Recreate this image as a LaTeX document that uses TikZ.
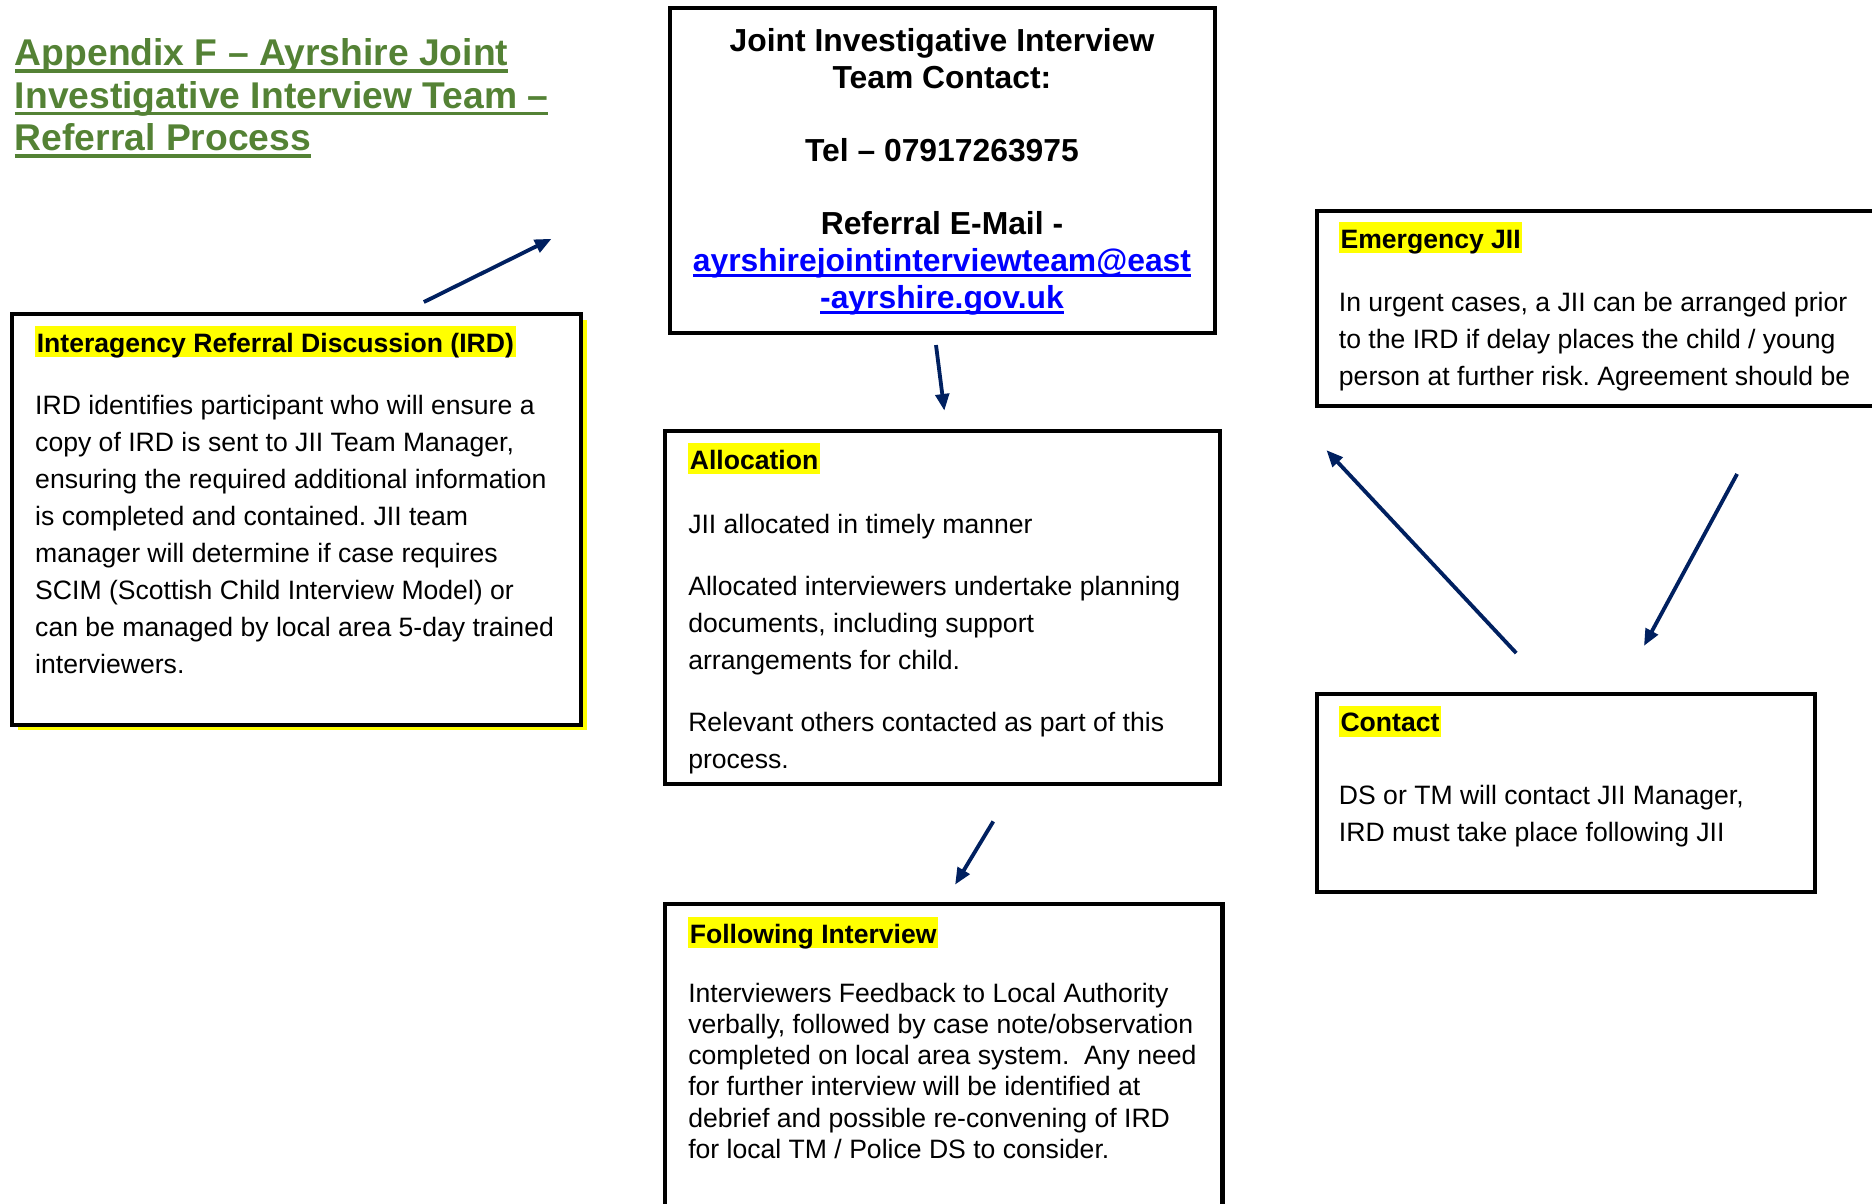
\documentclass[tikz,border=0pt]{standalone}
\usepackage{fontspec}
\setmainfont{Liberation Sans}
\usetikzlibrary{arrows.meta,fit,shadows}
\frenchspacing

\definecolor{titlegreen}{RGB}{84,130,53}
\definecolor{arrownavy}{RGB}{0,32,96}
\definecolor{linkblue}{RGB}{0,0,255}
\definecolor{hlyellow}{RGB}{255,255,0}

\newcommand{\bodyfnt}{\fontsize{16.7}{23.25}\selectfont}
\newcommand{\tightfnt}{\fontsize{16.7}{19.5}\selectfont}
\newcommand{\teamfnt}{\bfseries\fontsize{20}{23.25}\selectfont}
\newcommand{\titlefnt}{\bfseries\fontsize{23.4}{26.6}\selectfont}
\newsavebox{\ulsave}
\newcommand{\titleul}[1]{\sbox{\ulsave}{#1}\rlap{\rule[-4.5pt]{\wd\ulsave}{2.2pt}}\usebox{\ulsave}}
\newcommand{\linkul}[1]{{\color{linkblue}\sbox{\ulsave}{#1}\rlap{\rule[-3.5pt]{\wd\ulsave}{1.5pt}}\usebox{\ulsave}}}

\tikzset{every picture/.style={line width=0.75pt}}
\tikzset{
  boxframe/.style={draw, line width=2.6pt, fill=white, inner sep=0pt},
  headtext/.style={anchor=base west, fill=hlyellow, inner xsep=1pt, inner ysep=0pt,
    text height=16.5pt, text depth=3pt, font=\bodyfnt\bfseries},
  % multi-line texts: placed at the baseline of their last line
  bodytext/.style={anchor=base west, inner sep=0pt, align=left, font=\bodyfnt},
  teamtext/.style={anchor=base, inner sep=0pt, align=center, font=\teamfnt},
  titletext/.style={anchor=base west, inner sep=0pt, align=left, font=\titlefnt, text=titlegreen},
  flow/.style={draw=arrownavy, line width=2.4pt, -{Triangle[length=10.5pt,width=8.5pt]}},
}

\begin{document}
\begin{tikzpicture}[x=0.75pt,y=0.75pt,yscale=-1,xscale=1]
\useasboundingbox (0,0) rectangle (1568,1008);
\clip (0,0) rectangle (1568,1008);

% Title
\node[titletext] (title) at (12,126) {\titleul{Appendix F \textendash{} Ayrshire Joint}\\
  \titleul{Investigative Interview Team \textendash}\\
  \titleul{Referral Process}};

% Boxes
\coordinate (irdnw) at (10,263);    \coordinate (irdse) at (487,607);
\coordinate (teamnw) at (561,7);    \coordinate (teamse) at (1018,279);
\coordinate (allocnw) at (557,361); \coordinate (allocse) at (1022,657);
\coordinate (follownw) at (557,757); \coordinate (followse) at (1024,1040);
\coordinate (emergnw) at (1103,177); \coordinate (emergse) at (1600,340);
\coordinate (contactnw) at (1103,581); \coordinate (contactse) at (1520,747);

\node[boxframe, drop shadow={shadow xshift=3.6pt, shadow yshift=-3.6pt, fill=hlyellow, opacity=1},
  fit=(irdnw)(irdse)] (ird) {};
\node[boxframe, fit=(teamnw)(teamse)] (team) {};
\node[boxframe, fit=(allocnw)(allocse)] (alloc) {};
\node[boxframe, fit=(follownw)(followse)] (follow) {};
\node[boxframe, fit=(emergnw)(emergse)] (emerg) {};
\node[boxframe, fit=(contactnw)(contactse)] (contact) {};

% IRD
\node[headtext] (irdhead) at (29,295) {Interagency Referral Discussion (IRD)};
\node[bodytext] (irdbody) at (29,564) {IRD identifies participant who will ensure a\\
  copy of IRD is sent to JII Team Manager,\\
  ensuring the required additional information\\
  is completed and contained. JII team\\
  manager will determine if case requires\\
  SCIM (Scottish Child Interview Model) or\\
  can be managed by local area 5-day trained\\
  interviewers.};

% Team contact
\node[teamtext] (teamtext) at (789,258) {Joint Investigative Interview\\
  Team Contact:\\[22.5pt]
  Tel \textendash{} 07917263975\\[22.5pt]
  Referral E-Mail -\\
  \linkul{ayrshirejointinterviewteam@east}\\
  \linkul{-ayrshire.gov.uk}};

% Allocation
\node[headtext] (allochead) at (576,393) {Allocation};
\node[bodytext] (allocbody) at (576,644) {JII allocated in timely manner\\[15.75pt]
  Allocated interviewers undertake planning\\
  documents, including support\\
  arrangements for child.\\[15.75pt]
  Relevant others contacted as part of this\\
  process.};

% Following interview
\node[headtext] (followhead) at (576,790) {Following Interview};
\node[bodytext, font=\tightfnt] (followbody) at (576,970) {Interviewers Feedback to Local Authority\\
  verbally, followed by case note/observation\\
  completed on local area system.\ \ Any need\\
  for further interview will be identified at\\
  debrief and possible re-convening of IRD\\
  for local TM / Police DS to consider.};

% Emergency
\node[headtext] (emerghead) at (1121,208) {Emergency JII};
\node[bodytext] (emergbody) at (1121,323) {In urgent cases, a JII can be arranged prior\\
  to the IRD if delay places the child / young\\
  person at further risk. Agreement should be};

% Contact
\node[headtext] (contacthead) at (1121,613) {Contact};
\node[bodytext] (contactbody) at (1121,705) {DS or TM will contact JII Manager,\\
  IRD must take place following JII};

% Arrows
\coordinate (irdout) at (355,253);    \coordinate (teamin) at (462,200);
\coordinate (teamout) at (784,289);   \coordinate (allocin) at (791,344);
\coordinate (allocout) at (832,688);  \coordinate (followin) at (800,741);
\coordinate (contactup) at (1270,547); \coordinate (emergin) at (1111,377);
\coordinate (emergout) at (1455,397); \coordinate (contactin) at (1377,541);

\draw[flow] (irdout) -- (teamin);
\draw[flow] (teamout) -- (allocin);
\draw[flow] (allocout) -- (followin);
\draw[flow] (contactup) -- (emergin);
\draw[flow] (emergout) -- (contactin);

\end{tikzpicture}
\end{document}
